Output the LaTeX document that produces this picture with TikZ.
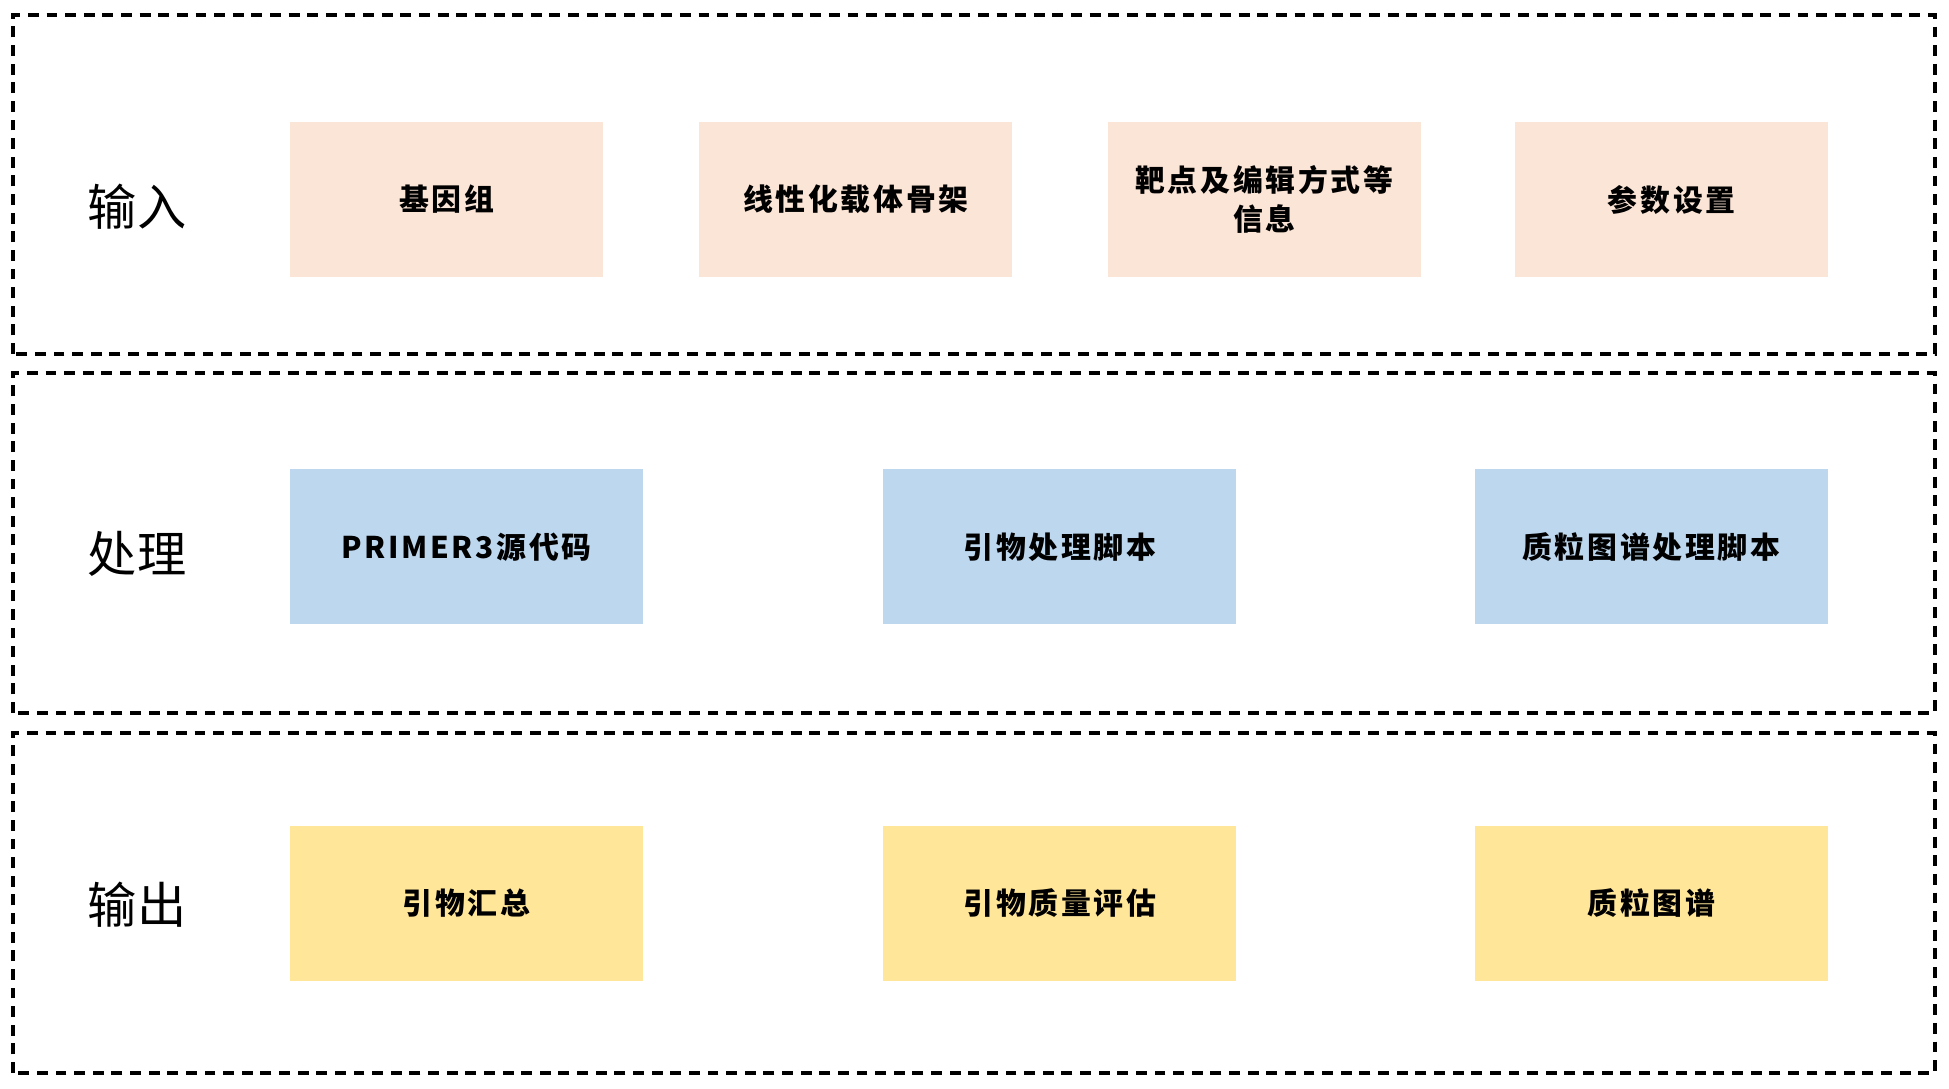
\documentclass[tikz,border=0pt]{standalone}
\usepackage{fontspec}
\usepackage{tikz}
\usetikzlibrary{positioning}
\newfontfamily\cjk{Noto Sans CJK SC}
\newfontfamily\cjkbox[LetterSpace=9]{Noto Sans CJK SC}
\definecolor{inpeach}{HTML}{FBE5D6}
\definecolor{procblue}{HTML}{BDD7EE}
\definecolor{outgold}{HTML}{FFE699}

\begin{document}
\begin{tikzpicture}[
    font=\cjkbox\bfseries\fontsize{8.5}{11}\selectfont,
    box/.style={minimum height=1.55cm, align=center, inner sep=0pt},
    inbox/.style={box, fill=inpeach, minimum width=3.13cm},
    procbox/.style={box, fill=procblue, minimum width=3.53cm},
    outbox/.style={box, fill=outgold, minimum width=3.53cm},
    lane/.style={draw, line width=1pt, dash pattern=on 3.1pt off 2.2pt},
    lanelabel/.style={font=\cjk\fontsize{14}{16}\selectfont},
  ]
  \useasboundingbox (0,0) rectangle (19.49,10.88);

  % three dashed lanes
  \draw[lane] (0.13,7.34) rectangle (19.35,10.73);
  \draw[lane] (0.13,3.75) rectangle (19.35,7.15);
  \draw[lane] (0.13,0.15) rectangle (19.35,3.55);

  \node[lanelabel] (lin)   at (1.37,8.81) {输入};
  \node[lanelabel] (lproc) at (1.37,5.34) {处理};
  \node[lanelabel] (lout)  at (1.37,1.83) {输出};

  % input
  \node[inbox] (genome) at (4.465,8.885) {基因组};
  \node[inbox, right=0.95cm of genome] (vector) {线性化载体骨架};
  \node[inbox, right=0.94cm of vector] (target) {靶点及编辑方式等\\信息};
  \node[inbox, right=0.93cm of target] (param) {参数设置};

  % processing
  \node[procbox] (primer) at (4.665,5.41) {PRIMER3源代码};
  \node[procbox, right=2.39cm of primer] (pscript) {引物处理脚本};
  \node[procbox, right=2.37cm of pscript] (mscript) {质粒图谱处理脚本};

  % output
  \node[outbox] (summary) at (4.665,1.845) {引物汇总};
  \node[outbox, right=2.39cm of summary] (quality) {引物质量评估};
  \node[outbox, right=2.37cm of quality] (pmap) {质粒图谱};
\end{tikzpicture}
\end{document}
